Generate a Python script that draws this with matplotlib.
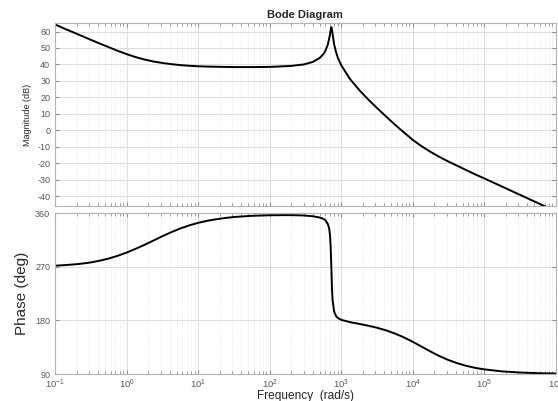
import numpy as np
import matplotlib
matplotlib.use('Agg')
import matplotlib.pyplot as plt
from matplotlib.ticker import LogLocator, NullFormatter

# values (frequency as log10 of rad/s)
log_freq = [-1.0, -0.875, -0.75, -0.625, -0.5, -0.375, -0.25, -0.125, 0.0, 0.125,
            0.25, 0.375, 0.5, 0.625, 0.75, 0.875, 1.0, 1.125, 1.25, 1.375,
            1.5, 1.75, 2.0, 2.301, 2.477, 2.602, 2.699, 2.75, 2.778, 2.813,
            2.833, 2.845, 2.854, 2.864, 2.873, 2.881, 2.903, 2.929, 2.954, 3.0,
            3.125, 3.25, 3.375, 3.5, 3.625, 3.75, 3.875, 4.0, 4.125, 4.25,
            4.375, 4.5, 4.625, 4.75, 4.875, 5.0, 5.25, 5.5, 5.75, 6.0]
mag_db = [64.3, 61.9, 59.6, 57.3, 55.0, 52.7, 50.5, 48.3, 46.3, 44.5,
          43.0, 41.8, 40.9, 40.2, 39.6, 39.2, 38.9, 38.7, 38.6, 38.5,
          38.4, 38.4, 38.5, 39.1, 40.0, 41.5, 43.9, 46.2, 48.1, 52.0,
          55.8, 58.3, 61.1, 62.6, 60.8, 58.3, 52.0, 47.5, 44.1, 39.6,
          31.1, 24.6, 18.9, 13.6, 8.5, 3.5, -1.2, -5.8, -9.7, -13.1,
          -16.2, -19.0, -21.6, -24.2, -26.8, -29.2, -34.2, -39.2, -44.2, -49.2]
phase_deg = [272.0, 272.9, 274.0, 275.5, 277.5, 280.4, 284.0, 288.6, 294.0, 300.3,
             307.0, 314.2, 321.5, 328.3, 334.5, 339.7, 344.0, 347.4, 350.0, 352.1,
             353.8, 355.8, 356.8, 357.0, 356.4, 355.1, 353.0, 350.9, 348.6, 342.4,
             334.5, 322.2, 303.2, 266.6, 230.6, 213.5, 194.7, 187.3, 184.1, 181.1,
             177.1, 174.3, 171.3, 167.8, 163.5, 158.1, 151.7, 144.2, 136.0, 127.8,
             120.1, 113.5, 108.1, 103.7, 100.3, 97.8, 94.4, 92.5, 91.4, 90.8]

mag_ticks = [-40, -30, -20, -10, 0, 10, 20, 30, 40, 50, 60]
phase_ticks = [90, 180, 270, 360]

freq = np.power(10.0, log_freq)

plt.rcParams['font.family'] = ['Liberation Sans', 'DejaVu Sans']
plt.rcParams['axes.unicode_minus'] = False

fig = plt.figure(figsize=(5.58, 4.01), dpi=100)
ax1 = fig.add_axes([0.0986, 0.4863, 0.8973, 0.4556])
ax2 = fig.add_axes([0.0986, 0.0673, 0.8973, 0.4007], sharex=ax1)

for ax in (ax1, ax2):
    ax.set_xscale('log')
    ax.set_xlim(0.1, 1e6)
    ax.xaxis.set_major_locator(LogLocator(base=10, numticks=10))
    ax.xaxis.set_minor_locator(LogLocator(base=10, subs=np.arange(2, 10), numticks=100))
    ax.xaxis.set_minor_formatter(NullFormatter())
    ax.grid(True, which='major', color='#dcdcdc', linewidth=0.7)
    ax.grid(True, which='minor', color='#e2e2e2', linewidth=0.6, linestyle=':')
    ax.set_axisbelow(True)
    ax.tick_params(which='both', direction='in', top=True, right=True,
                   colors='#8c8c8c', labelcolor='#555555', labelsize=6.5, length=3)
    ax.tick_params(which='minor', length=2)
    for s in ax.spines.values():
        s.set_color('#b4b4b4')
        s.set_linewidth(0.8)

ax1.plot(freq, mag_db, color='black', linewidth=1.4)
ax1.set_ylim(-46, 65)
ax1.set_yticks(mag_ticks)
ax1.tick_params(labelbottom=False)
ax1.set_ylabel('Magnitude (dB)', fontsize=6.5, color='#262626', labelpad=4)
ax1.set_title('Bode Diagram', fontsize=8, fontweight='bold', color='#262626', pad=4)

ax2.plot(freq, phase_deg, color='black', linewidth=1.4)
ax2.set_ylim(90, 360)
ax2.set_yticks(phase_ticks)
ax2.set_ylabel('Phase (deg)', fontsize=11, color='#262626', labelpad=4)
ax2.tick_params(axis='x', labelsize=6.8, pad=2.5)
ax2.set_xlabel('Frequency  (rad/s)', fontsize=8.6, color='#262626', labelpad=-0.5)

fig.savefig('out.png', dpi=100)
